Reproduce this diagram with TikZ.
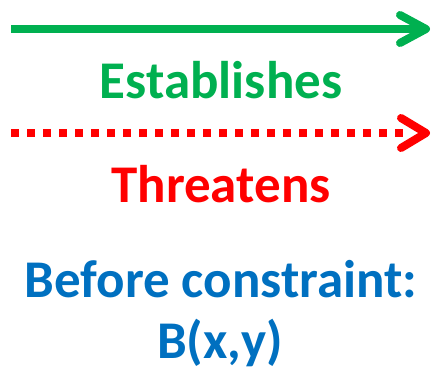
\documentclass[tikz,border=0pt]{standalone}
\usepackage{fontspec}
\setmainfont{Carlito}
\definecolor{estgreen}{HTML}{00B050}
\definecolor{thrred}{HTML}{FF0000}
\definecolor{cblue}{HTML}{0070C0}
\begin{document}
\begin{tikzpicture}[x=1pt,y=-1pt,
  shaft/.style={line width=8pt},
  chevron/.style={line width=8pt,line cap=round,line join=round},
  dotted shaft/.style={line width=8pt,dash pattern=on 8pt off 8pt},
  label/.style={anchor=base,inner sep=0pt,font=\fontsize{53}{63}\selectfont\bfseries},
  caption/.style={anchor=base,inner sep=0pt,font=\fontsize{53}{63}\selectfont\bfseries}]
\useasboundingbox (0,0) rectangle (434,377);
% establishes arrow
\coordinate (gs) at (11,29);
\coordinate (ge) at (426,29);
\draw[shaft,estgreen] (gs) -- (ge);
\draw[chevron,estgreen] (400,15) -- (ge) -- (400,43);
\node[label,text=estgreen] (est) at (221,99) {Establishes};
% threatens arrow
\coordinate (rs) at (11,133);
\coordinate (re) at (426,133);
\draw[dotted shaft,thrred] (rs) -- (406,133);
\draw[chevron,thrred] (401,118) -- (re) -- (401,148);
\node[label,text=thrred] (thr) at (221,202) {Threatens};
% constraint caption
\node[caption,text=cblue] (bc) at (221,297) {Before constraint:};
\node[caption,text=cblue] (bxy) at (220,358) {B(x,y)};
\end{tikzpicture}
\end{document}
